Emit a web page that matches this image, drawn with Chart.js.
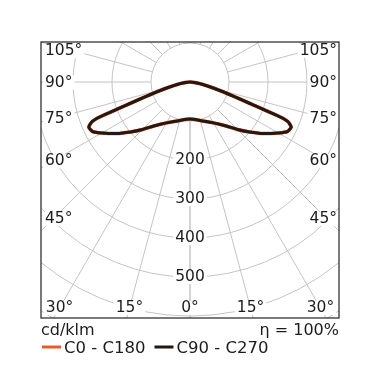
<!DOCTYPE html>
<html>
<head>
<meta charset="utf-8">
<script src="https://cdn.jsdelivr.net/npm/chart.js@4.4.1/dist/chart.umd.min.js"></script>
<style>
  html, body { margin: 0; padding: 0; background: #fff; }
</style>
</head>
<body>
<canvas id="polarChart" width="378" height="378"></canvas>
<script>
// gamma angle (deg), negative = left half of the plane
const gammaAngles = [-90, -80, -70, -69, -68, -66, -63, -60, -55, -50, -45, -40, -35, -30, -25, -20, -15, -10, -5,
    0, 5, 10, 15, 20, 25, 30, 35, 40, 45, 50, 55, 60, 63, 66, 68, 69, 70, 80, 90];
// intensities in cd/klm
const c0c180 = [0, 0, 0, 240, 270, 284, 280, 261, 230, 199, 172, 148, 132, 121, 113, 107, 102, 98, 96,
    95, 96, 98, 102, 107, 113, 121, 132, 148, 172, 199, 230, 261, 280, 284, 270, 240, 0, 0, 0];
const c90c270 = [0, 0, 0, 240, 270, 284, 280, 261, 230, 199, 172, 148, 132, 121, 113, 107, 102, 98, 96,
    95, 96, 98, 102, 107, 113, 121, 132, 148, 172, 199, 230, 261, 280, 284, 270, 240, 0, 0, 0];

const ringValues = [100, 200, 300, 400, 500, 600, 700];
const ringLabels = [200, 300, 400, 500];
const spokeAngles = [0, 15, 30, 45, 60, 75, 90, 105, 120, 135, 150, 165, 180];
const sideAngleLabels = [45, 60, 75, 90, 105];
const bottomAngleLabels = [0, 15, 30];
const unitText = 'cd/klm';
const efficiencyText = 'η = 100%';

const xRange = [-382, 382];
const yRange = [-605, 102.6];

// polar -> cartesian, dropping repeated points (all the zero values sit in the centre)
function toXY(values) {
    const pts = [];
    gammaAngles.forEach((g, i) => {
        const t = g * Math.PI / 180;
        const p = { x: values[i] * Math.sin(t), y: -values[i] * Math.cos(t) };
        const last = pts[pts.length - 1];
        if (!last || Math.abs(last.x - p.x) > 1e-6 || Math.abs(last.y - p.y) > 1e-6) pts.push(p);
    });
    // close the loop through the centre
    pts.unshift(pts[pts.length - 2]);
    pts.push(pts[2]);
    return pts;
}

const FONT = '"DejaVu Sans", sans-serif';

function labelWithBg(ctx, text, x, y, align) {
    const w = ctx.measureText(text).width;
    let left = x;
    if (align === 'center') left = x - w / 2;
    if (align === 'right') left = x - w;
    ctx.fillStyle = '#fff';
    ctx.fillRect(left - 2, y - 7, w + 4, 14);
    ctx.fillStyle = '#1c1c1c';
    ctx.textAlign = align;
    ctx.fillText(text, x, y);
}

const polarGrid = {
    id: 'polarGrid',
    beforeDatasetsDraw(chart) {
        const { ctx, chartArea: a, scales: { x, y } } = chart;
        const cx = x.getPixelForValue(0), cy = y.getPixelForValue(0);
        const k = (x.getPixelForValue(100) - cx) / 100;
        ctx.save();
        ctx.beginPath();
        ctx.rect(a.left, a.top, a.right - a.left, a.bottom - a.top);
        ctx.clip();
        ctx.strokeStyle = '#c4c4c4';
        ctx.lineWidth = 1;
        ringValues.forEach(v => {
            ctx.beginPath();
            ctx.arc(cx, cy, v * k, 0, Math.PI * 2);
            ctx.stroke();
        });
        const r0 = ringValues[0] * k, r1 = 1000 * k;
        spokeAngles.forEach(g => {
            [-1, 1].forEach(s => {
                const t = g * Math.PI / 180;
                const dx = s * Math.sin(t), dy = Math.cos(t);
                ctx.beginPath();
                ctx.moveTo(cx + dx * r0, cy + dy * r0);
                ctx.lineTo(cx + dx * r1, cy + dy * r1);
                ctx.stroke();
            });
        });
        ctx.restore();
    },
    afterDatasetsDraw(chart) {
        const { ctx, chartArea: a, scales: { x, y } } = chart;
        const cx = x.getPixelForValue(0), cy = y.getPixelForValue(0);
        const k = (x.getPixelForValue(100) - cx) / 100;
        ctx.save();
        ctx.font = '15.5px ' + FONT;
        ctx.textBaseline = 'middle';
        ringLabels.forEach(v => labelWithBg(ctx, String(v), cx, cy + v * k, 'center'));

        // angle labels along the sides
        sideAngleLabels.forEach(g => {
            const t = g * Math.PI / 180;
            const off = cx - (a.left + 12.5);
            const ly = Math.max(a.top + 9, cy + off * Math.cos(t) / Math.sin(t) + 0.5);
            labelWithBg(ctx, g + '°', a.left + 4, ly, 'left');
            labelWithBg(ctx, g + '°', a.right - 2, ly, 'right');
        });
        // angle labels along the bottom
        const by = a.bottom - 10;
        bottomAngleLabels.forEach(g => {
            const t = g * Math.PI / 180;
            const txt = g + '°';
            const w = ctx.measureText(txt).width;
            const d = (by - cy) * Math.tan(t);
            const lx = Math.max(a.left + 4 + w / 2, cx - d);
            const rx = Math.min(a.right - 2 - w / 2, cx + d);
            labelWithBg(ctx, txt, lx, by, 'center');
            if (g !== 0) labelWithBg(ctx, txt, rx, by, 'center');
        });
        ctx.restore();
    },
    afterDraw(chart) {
        const { ctx, chartArea: a } = chart;
        ctx.save();
        ctx.strokeStyle = '#222';
        ctx.lineWidth = 1.2;
        ctx.strokeRect(a.left, a.top, a.right - a.left, a.bottom - a.top);

        ctx.fillStyle = '#1c1c1c';
        ctx.font = '16px ' + FONT;
        ctx.textBaseline = 'alphabetic';
        ctx.textAlign = 'left';
        ctx.fillText(unitText, a.left, a.bottom + 17);
        ctx.textAlign = 'right';
        ctx.fillText(efficiencyText, a.right, a.bottom + 17);

        // legend
        ctx.font = '16.5px ' + FONT;
        ctx.textAlign = 'left';
        let lx = a.left + 1;
        const ly = a.bottom + 29;
        chart.data.datasets.forEach(ds => {
            ctx.strokeStyle = ds.legendColor;
            ctx.lineWidth = 3;
            ctx.beginPath();
            ctx.moveTo(lx, ly);
            ctx.lineTo(lx + 19, ly);
            ctx.stroke();
            ctx.fillStyle = '#1c1c1c';
            ctx.fillText(ds.label, lx + 22, ly + 6);
            lx += 22 + ctx.measureText(ds.label).width + 9;
        });
        ctx.restore();
    }
};

new Chart(document.getElementById('polarChart'), {
    type: 'scatter',
    data: {
        datasets: [
            {
                label: 'C0 - C180',
                data: toXY(c0c180),
                borderColor: '#ef5a24',
                legendColor: '#ef5a24',
                borderWidth: 3.6,
                order: 2
            },
            {
                label: 'C90 - C270',
                data: toXY(c90c270),
                borderColor: '#231815',
                legendColor: '#231815',
                borderWidth: 3,
                order: 1
            }
        ]
    },
    options: {
        responsive: false,
        animation: false,
        devicePixelRatio: 1,
        showLine: true,
        layout: { padding: { left: 41, top: 42, right: 39, bottom: 60 } },
        elements: {
            point: { radius: 0, hoverRadius: 0 },
            line: { tension: 0.2, borderJoinStyle: 'round', fill: false }
        },
        scales: {
            x: { type: 'linear', min: xRange[0], max: xRange[1], display: false },
            y: { type: 'linear', min: yRange[0], max: yRange[1], display: false }
        },
        plugins: {
            legend: { display: false },
            tooltip: { enabled: false }
        }
    },
    plugins: [polarGrid]
});
</script>
</body>
</html>
